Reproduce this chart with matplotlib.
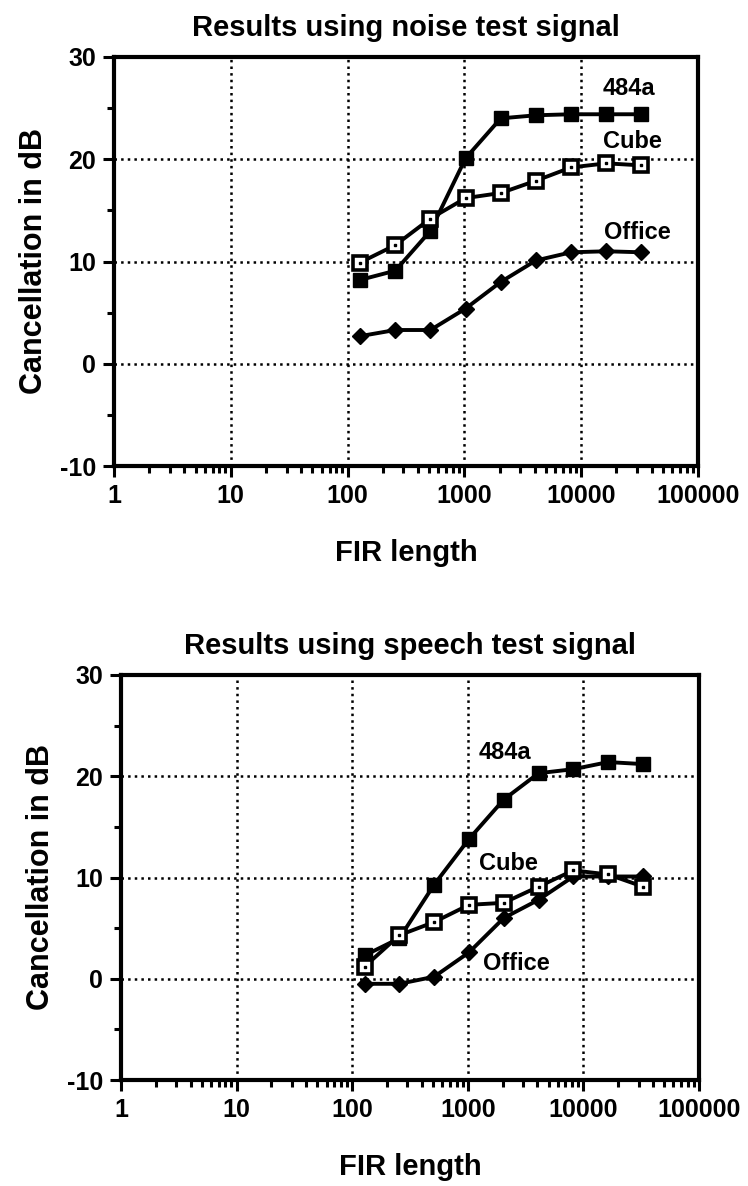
import matplotlib
matplotlib.use("Agg")
import matplotlib.pyplot as plt
from matplotlib.ticker import LogLocator, FixedLocator, NullFormatter
import numpy as np

plt.rcParams['font.family'] = ['Liberation Sans', 'DejaVu Sans']
plt.rcParams['font.weight'] = 'bold'
plt.rcParams['axes.titleweight'] = 'bold'
plt.rcParams['axes.labelweight'] = 'bold'
plt.rcParams['axes.unicode_minus'] = False

# FIR lengths tested
fir_len = [128, 256, 512, 1024, 2048, 4096, 8192, 16384, 32768]

# noise test signal (dB)
noise_484a = [8.2, 9.1, 13.0, 20.1, 24.0, 24.3, 24.4, 24.4, 24.4]
noise_cube = [9.9, 11.6, 14.2, 16.2, 16.7, 17.9, 19.2, 19.6, 19.4]
noise_office = [2.7, 3.3, 3.3, 5.4, 8.0, 10.1, 10.9, 11.0, 10.9]

# speech test signal (dB)
speech_484a = [2.3, 4.0, 9.3, 13.8, 17.7, 20.3, 20.7, 21.4, 21.2]
speech_cube = [1.2, 4.3, 5.6, 7.3, 7.5, 9.1, 10.7, 10.3, 9.1]
speech_office = [-0.5, -0.5, 0.2, 2.6, 6.0, 7.8, 10.1, 10.1, 10.1]

x_ticks = [1, 10, 100, 1000, 10000, 100000]
x_ticklabels = ["1", "10", "100", "1000", "10000", "100000"]
y_ticks = [-10, 0, 10, 20, 30]

W, H = 748, 1186
fig = plt.figure(figsize=(W / 100, H / 100), dpi=100)


def make_axes(px_left, px_top, px_right, px_bottom):
    return fig.add_axes([px_left / W, 1 - px_bottom / H,
                         (px_right - px_left) / W, (px_bottom - px_top) / H])


def draw_panel(ax, title, s484, scube, soffice, labels):
    ax.set_xscale('log')
    ax.set_xlim(1, 100000)
    ax.set_ylim(-10, 30)

    ax.plot(fir_len, s484, color='black', lw=2.8, marker='s', ms=10,
            mfc='black', mec='black', zorder=4)
    ax.plot(fir_len, scube, color='black', lw=2.8, marker='s', ms=10,
            mfc='white', mec='black', mew=2.6, zorder=5)
    ax.plot(fir_len, scube, ls='none', marker='s', ms=2, color='black', zorder=6)
    ax.plot(fir_len, soffice, color='black', lw=2.8, marker='D', ms=8,
            mfc='black', mec='black', zorder=4)

    for txt, (lx, ly) in labels.items():
        ax.text(lx, ly, txt, fontsize=17, ha='left', va='center', zorder=7)

    ax.xaxis.set_major_locator(FixedLocator(x_ticks))
    ax.set_xticklabels(x_ticklabels)
    ax.xaxis.set_minor_locator(LogLocator(base=10, subs=np.arange(2, 10)))
    ax.xaxis.set_minor_formatter(NullFormatter())
    ax.yaxis.set_major_locator(FixedLocator(y_ticks))
    ax.yaxis.set_minor_locator(FixedLocator([-5, 5, 15, 25]))

    ax.tick_params(axis='both', which='major', direction='out', length=8,
                   width=2.2, labelsize=18, pad=5, top=False, right=False)
    ax.tick_params(axis='both', which='minor', direction='out', length=5,
                   width=2.2, top=False, right=False)

    ax.grid(True, which='major', color='black', ls=':', lw=1.8)
    for sp in ax.spines.values():
        sp.set_linewidth(3)

    ax.set_title(title, fontsize=21, pad=15)
    ax.set_xlabel("FIR length", fontsize=21, labelpad=22)
    ax.set_ylabel("Cancellation in dB", fontsize=22, labelpad=8)


ax1 = make_axes(114, 57, 698, 466)
draw_panel(ax1, "Results using noise test signal",
           noise_484a, noise_cube, noise_office,
           {"484a": (15400, 26.9), "Cube": (15400, 21.7), "Office": (15600, 12.8)})

ax2 = make_axes(121, 675, 699, 1080)
draw_panel(ax2, "Results using speech test signal",
           speech_484a, speech_cube, speech_office,
           {"484a": (1230, 22.3), "Cube": (1250, 11.4), "Office": (1350, 1.5)})

fig.savefig("out.png", dpi=100, facecolor='white')
